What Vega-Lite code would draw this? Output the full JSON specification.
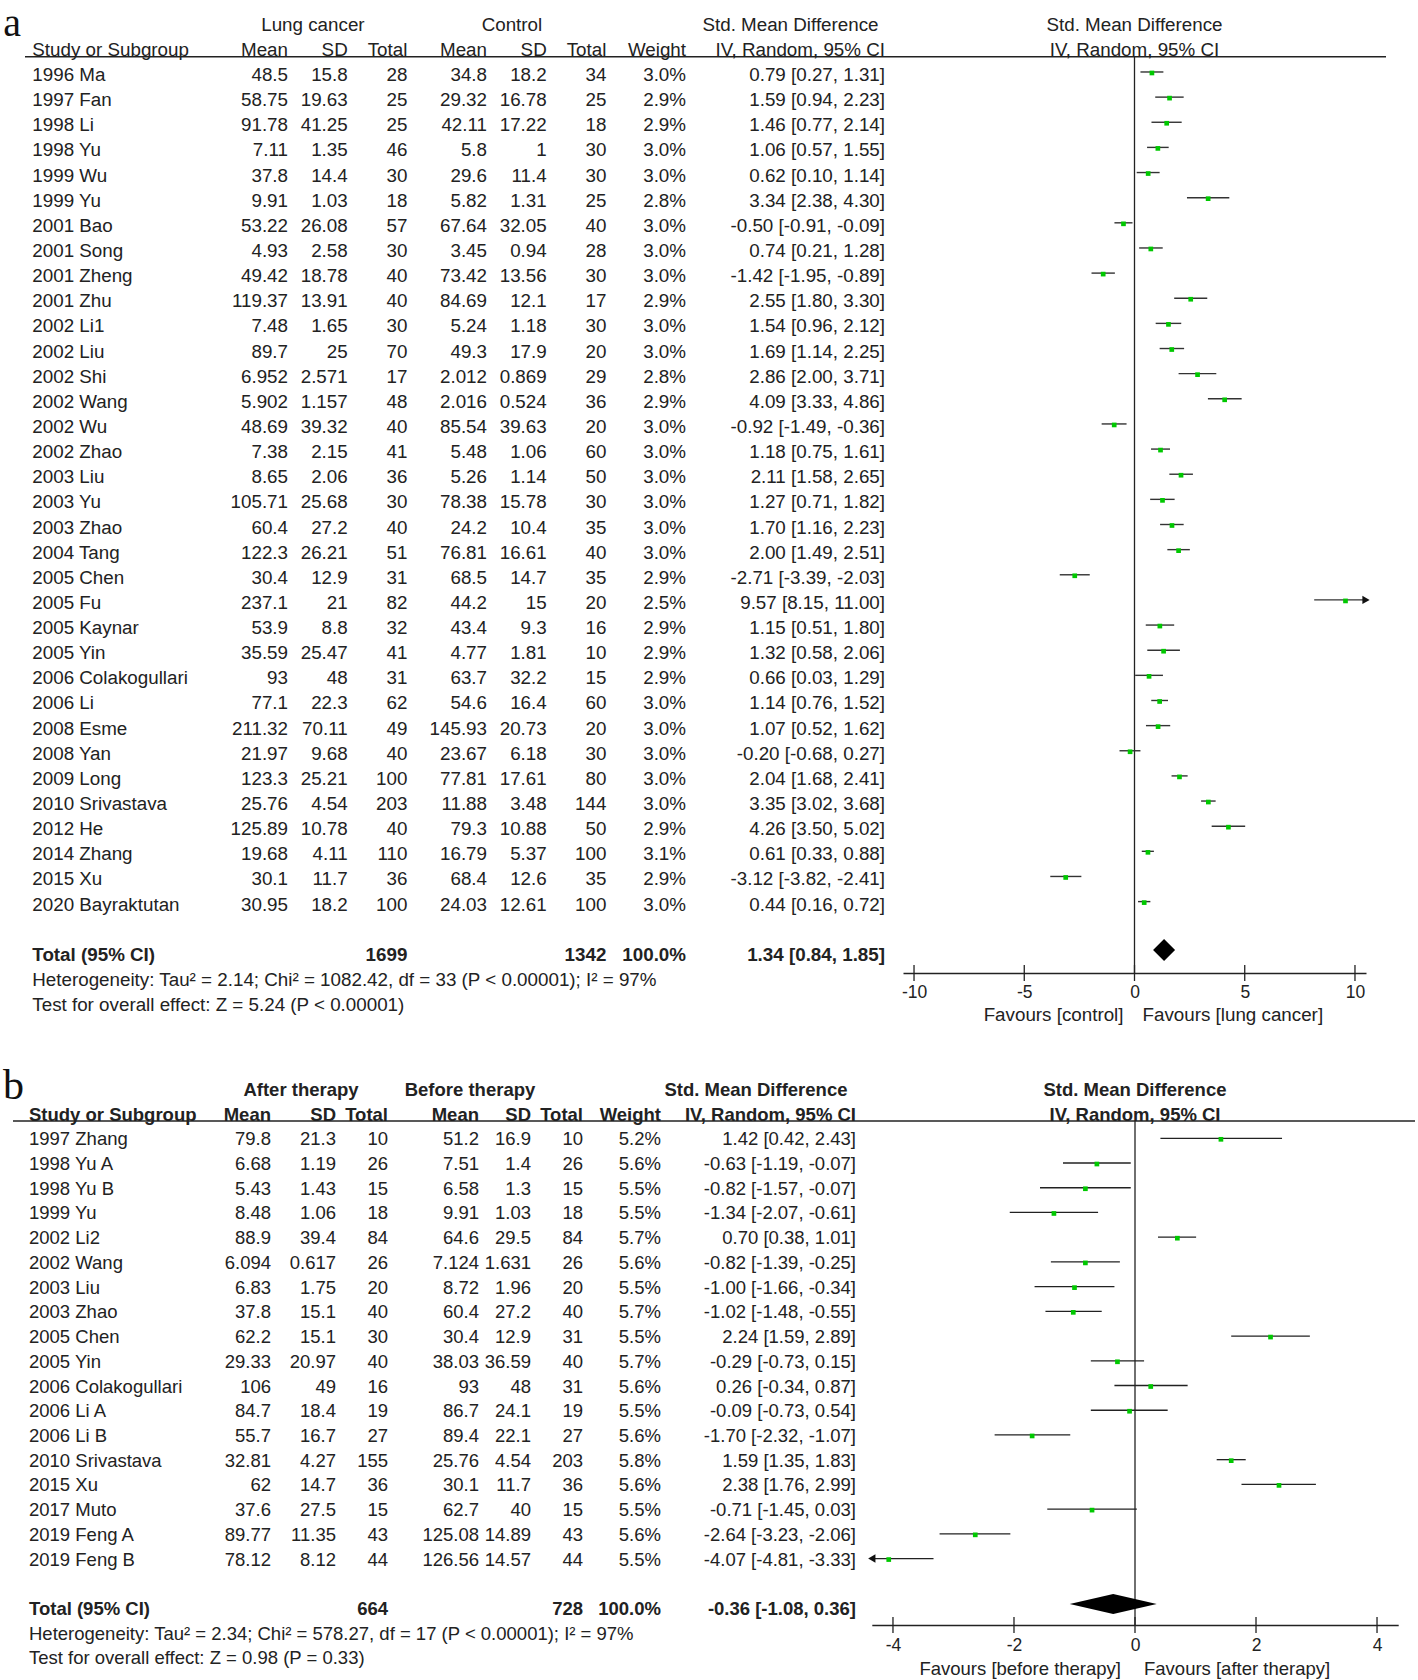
{
"$schema": "https://vega.github.io/schema/vega-lite/v6.json",
"background": "white",
"padding": 0,
"spacing": 0,
"config": {"view": {"stroke": null}},
"datasets": {
"a_rows": [
{"study":"1996 Ma","m1":"48.5","sd1":"15.8","n1":"28","m2":"34.8","sd2":"18.2","n2":"34","w":"3.0%","ci":"0.79 [0.27, 1.31]","smd":0.79,"lo":0.27,"hi":1.31},
{"study":"1997 Fan","m1":"58.75","sd1":"19.63","n1":"25","m2":"29.32","sd2":"16.78","n2":"25","w":"2.9%","ci":"1.59 [0.94, 2.23]","smd":1.59,"lo":0.94,"hi":2.23},
{"study":"1998 Li","m1":"91.78","sd1":"41.25","n1":"25","m2":"42.11","sd2":"17.22","n2":"18","w":"2.9%","ci":"1.46 [0.77, 2.14]","smd":1.46,"lo":0.77,"hi":2.14},
{"study":"1998 Yu","m1":"7.11","sd1":"1.35","n1":"46","m2":"5.8","sd2":"1","n2":"30","w":"3.0%","ci":"1.06 [0.57, 1.55]","smd":1.06,"lo":0.57,"hi":1.55},
{"study":"1999 Wu","m1":"37.8","sd1":"14.4","n1":"30","m2":"29.6","sd2":"11.4","n2":"30","w":"3.0%","ci":"0.62 [0.10, 1.14]","smd":0.62,"lo":0.10,"hi":1.14},
{"study":"1999 Yu","m1":"9.91","sd1":"1.03","n1":"18","m2":"5.82","sd2":"1.31","n2":"25","w":"2.8%","ci":"3.34 [2.38, 4.30]","smd":3.34,"lo":2.38,"hi":4.30},
{"study":"2001 Bao","m1":"53.22","sd1":"26.08","n1":"57","m2":"67.64","sd2":"32.05","n2":"40","w":"3.0%","ci":"-0.50 [-0.91, -0.09]","smd":-0.50,"lo":-0.91,"hi":-0.09},
{"study":"2001 Song","m1":"4.93","sd1":"2.58","n1":"30","m2":"3.45","sd2":"0.94","n2":"28","w":"3.0%","ci":"0.74 [0.21, 1.28]","smd":0.74,"lo":0.21,"hi":1.28},
{"study":"2001 Zheng","m1":"49.42","sd1":"18.78","n1":"40","m2":"73.42","sd2":"13.56","n2":"30","w":"3.0%","ci":"-1.42 [-1.95, -0.89]","smd":-1.42,"lo":-1.95,"hi":-0.89},
{"study":"2001 Zhu","m1":"119.37","sd1":"13.91","n1":"40","m2":"84.69","sd2":"12.1","n2":"17","w":"2.9%","ci":"2.55 [1.80, 3.30]","smd":2.55,"lo":1.80,"hi":3.30},
{"study":"2002 Li1","m1":"7.48","sd1":"1.65","n1":"30","m2":"5.24","sd2":"1.18","n2":"30","w":"3.0%","ci":"1.54 [0.96, 2.12]","smd":1.54,"lo":0.96,"hi":2.12},
{"study":"2002 Liu","m1":"89.7","sd1":"25","n1":"70","m2":"49.3","sd2":"17.9","n2":"20","w":"3.0%","ci":"1.69 [1.14, 2.25]","smd":1.69,"lo":1.14,"hi":2.25},
{"study":"2002 Shi","m1":"6.952","sd1":"2.571","n1":"17","m2":"2.012","sd2":"0.869","n2":"29","w":"2.8%","ci":"2.86 [2.00, 3.71]","smd":2.86,"lo":2.00,"hi":3.71},
{"study":"2002 Wang","m1":"5.902","sd1":"1.157","n1":"48","m2":"2.016","sd2":"0.524","n2":"36","w":"2.9%","ci":"4.09 [3.33, 4.86]","smd":4.09,"lo":3.33,"hi":4.86},
{"study":"2002 Wu","m1":"48.69","sd1":"39.32","n1":"40","m2":"85.54","sd2":"39.63","n2":"20","w":"3.0%","ci":"-0.92 [-1.49, -0.36]","smd":-0.92,"lo":-1.49,"hi":-0.36},
{"study":"2002 Zhao","m1":"7.38","sd1":"2.15","n1":"41","m2":"5.48","sd2":"1.06","n2":"60","w":"3.0%","ci":"1.18 [0.75, 1.61]","smd":1.18,"lo":0.75,"hi":1.61},
{"study":"2003 Liu","m1":"8.65","sd1":"2.06","n1":"36","m2":"5.26","sd2":"1.14","n2":"50","w":"3.0%","ci":"2.11 [1.58, 2.65]","smd":2.11,"lo":1.58,"hi":2.65},
{"study":"2003 Yu","m1":"105.71","sd1":"25.68","n1":"30","m2":"78.38","sd2":"15.78","n2":"30","w":"3.0%","ci":"1.27 [0.71, 1.82]","smd":1.27,"lo":0.71,"hi":1.82},
{"study":"2003 Zhao","m1":"60.4","sd1":"27.2","n1":"40","m2":"24.2","sd2":"10.4","n2":"35","w":"3.0%","ci":"1.70 [1.16, 2.23]","smd":1.70,"lo":1.16,"hi":2.23},
{"study":"2004 Tang","m1":"122.3","sd1":"26.21","n1":"51","m2":"76.81","sd2":"16.61","n2":"40","w":"3.0%","ci":"2.00 [1.49, 2.51]","smd":2.00,"lo":1.49,"hi":2.51},
{"study":"2005 Chen","m1":"30.4","sd1":"12.9","n1":"31","m2":"68.5","sd2":"14.7","n2":"35","w":"2.9%","ci":"-2.71 [-3.39, -2.03]","smd":-2.71,"lo":-3.39,"hi":-2.03},
{"study":"2005 Fu","m1":"237.1","sd1":"21","n1":"82","m2":"44.2","sd2":"15","n2":"20","w":"2.5%","ci":"9.57 [8.15, 11.00]","smd":9.57,"lo":8.15,"hi":11.00},
{"study":"2005 Kaynar","m1":"53.9","sd1":"8.8","n1":"32","m2":"43.4","sd2":"9.3","n2":"16","w":"2.9%","ci":"1.15 [0.51, 1.80]","smd":1.15,"lo":0.51,"hi":1.80},
{"study":"2005 Yin","m1":"35.59","sd1":"25.47","n1":"41","m2":"4.77","sd2":"1.81","n2":"10","w":"2.9%","ci":"1.32 [0.58, 2.06]","smd":1.32,"lo":0.58,"hi":2.06},
{"study":"2006 Colakogullari","m1":"93","sd1":"48","n1":"31","m2":"63.7","sd2":"32.2","n2":"15","w":"2.9%","ci":"0.66 [0.03, 1.29]","smd":0.66,"lo":0.03,"hi":1.29},
{"study":"2006 Li","m1":"77.1","sd1":"22.3","n1":"62","m2":"54.6","sd2":"16.4","n2":"60","w":"3.0%","ci":"1.14 [0.76, 1.52]","smd":1.14,"lo":0.76,"hi":1.52},
{"study":"2008 Esme","m1":"211.32","sd1":"70.11","n1":"49","m2":"145.93","sd2":"20.73","n2":"20","w":"3.0%","ci":"1.07 [0.52, 1.62]","smd":1.07,"lo":0.52,"hi":1.62},
{"study":"2008 Yan","m1":"21.97","sd1":"9.68","n1":"40","m2":"23.67","sd2":"6.18","n2":"30","w":"3.0%","ci":"-0.20 [-0.68, 0.27]","smd":-0.20,"lo":-0.68,"hi":0.27},
{"study":"2009 Long","m1":"123.3","sd1":"25.21","n1":"100","m2":"77.81","sd2":"17.61","n2":"80","w":"3.0%","ci":"2.04 [1.68, 2.41]","smd":2.04,"lo":1.68,"hi":2.41},
{"study":"2010 Srivastava","m1":"25.76","sd1":"4.54","n1":"203","m2":"11.88","sd2":"3.48","n2":"144","w":"3.0%","ci":"3.35 [3.02, 3.68]","smd":3.35,"lo":3.02,"hi":3.68},
{"study":"2012 He","m1":"125.89","sd1":"10.78","n1":"40","m2":"79.3","sd2":"10.88","n2":"50","w":"2.9%","ci":"4.26 [3.50, 5.02]","smd":4.26,"lo":3.50,"hi":5.02},
{"study":"2014 Zhang","m1":"19.68","sd1":"4.11","n1":"110","m2":"16.79","sd2":"5.37","n2":"100","w":"3.1%","ci":"0.61 [0.33, 0.88]","smd":0.61,"lo":0.33,"hi":0.88},
{"study":"2015 Xu","m1":"30.1","sd1":"11.7","n1":"36","m2":"68.4","sd2":"12.6","n2":"35","w":"2.9%","ci":"-3.12 [-3.82, -2.41]","smd":-3.12,"lo":-3.82,"hi":-2.41},
{"study":"2020 Bayraktutan","m1":"30.95","sd1":"18.2","n1":"100","m2":"24.03","sd2":"12.61","n2":"100","w":"3.0%","ci":"0.44 [0.16, 0.72]","smd":0.44,"lo":0.16,"hi":0.72}
],
"a_total": [{"study":"Total (95% CI)","n1":"1699","n2":"1342","w":"100.0%","ci":"1.34 [0.84, 1.85]","smd":1.34,"lo":0.84,"hi":1.85}],
"a_h2": [{"key":"study","label":"Study or Subgroup"},{"key":"m1","label":"Mean"},{"key":"sd1","label":"SD"},{"key":"n1","label":"Total"},{"key":"m2","label":"Mean"},{"key":"sd2","label":"SD"},{"key":"n2","label":"Total"},{"key":"w","label":"Weight"},{"key":"ci","label":"IV, Random, 95% CI"}],
"a_h1": [{"key":"g1","label":"Lung cancer"},{"key":"g2","label":"Control"},{"key":"g3","label":"Std. Mean Difference"}],
"a_foot": [{"row":"Het","label":"Heterogeneity: Tau² = 2.14; Chi² = 1082.42, df = 33 (P < 0.00001); I² = 97%"},{"row":"Test","label":"Test for overall effect: Z = 5.24 (P < 0.00001)"}],
"a_fh": [{"row":"h1","label":"Std. Mean Difference"},{"row":"h2","label":"IV, Random, 95% CI"}],
"a_fav": [{"side":"left","label":"Favours [control]"},{"side":"right","label":"Favours [lung cancer]"}],
"a_ticks": [{"v":-10},{"v":-5},{"v":0},{"v":5},{"v":10}],
"b_rows": [
{"study":"1997 Zhang","m1":"79.8","sd1":"21.3","n1":"10","m2":"51.2","sd2":"16.9","n2":"10","w":"5.2%","ci":"1.42 [0.42, 2.43]","smd":1.42,"lo":0.42,"hi":2.43},
{"study":"1998 Yu A","m1":"6.68","sd1":"1.19","n1":"26","m2":"7.51","sd2":"1.4","n2":"26","w":"5.6%","ci":"-0.63 [-1.19, -0.07]","smd":-0.63,"lo":-1.19,"hi":-0.07},
{"study":"1998 Yu B","m1":"5.43","sd1":"1.43","n1":"15","m2":"6.58","sd2":"1.3","n2":"15","w":"5.5%","ci":"-0.82 [-1.57, -0.07]","smd":-0.82,"lo":-1.57,"hi":-0.07},
{"study":"1999 Yu","m1":"8.48","sd1":"1.06","n1":"18","m2":"9.91","sd2":"1.03","n2":"18","w":"5.5%","ci":"-1.34 [-2.07, -0.61]","smd":-1.34,"lo":-2.07,"hi":-0.61},
{"study":"2002 Li2","m1":"88.9","sd1":"39.4","n1":"84","m2":"64.6","sd2":"29.5","n2":"84","w":"5.7%","ci":"0.70 [0.38, 1.01]","smd":0.70,"lo":0.38,"hi":1.01},
{"study":"2002 Wang","m1":"6.094","sd1":"0.617","n1":"26","m2":"7.124","sd2":"1.631","n2":"26","w":"5.6%","ci":"-0.82 [-1.39, -0.25]","smd":-0.82,"lo":-1.39,"hi":-0.25},
{"study":"2003 Liu","m1":"6.83","sd1":"1.75","n1":"20","m2":"8.72","sd2":"1.96","n2":"20","w":"5.5%","ci":"-1.00 [-1.66, -0.34]","smd":-1.00,"lo":-1.66,"hi":-0.34},
{"study":"2003 Zhao","m1":"37.8","sd1":"15.1","n1":"40","m2":"60.4","sd2":"27.2","n2":"40","w":"5.7%","ci":"-1.02 [-1.48, -0.55]","smd":-1.02,"lo":-1.48,"hi":-0.55},
{"study":"2005 Chen","m1":"62.2","sd1":"15.1","n1":"30","m2":"30.4","sd2":"12.9","n2":"31","w":"5.5%","ci":"2.24 [1.59, 2.89]","smd":2.24,"lo":1.59,"hi":2.89},
{"study":"2005 Yin","m1":"29.33","sd1":"20.97","n1":"40","m2":"38.03","sd2":"36.59","n2":"40","w":"5.7%","ci":"-0.29 [-0.73, 0.15]","smd":-0.29,"lo":-0.73,"hi":0.15},
{"study":"2006 Colakogullari","m1":"106","sd1":"49","n1":"16","m2":"93","sd2":"48","n2":"31","w":"5.6%","ci":"0.26 [-0.34, 0.87]","smd":0.26,"lo":-0.34,"hi":0.87},
{"study":"2006 Li A","m1":"84.7","sd1":"18.4","n1":"19","m2":"86.7","sd2":"24.1","n2":"19","w":"5.5%","ci":"-0.09 [-0.73, 0.54]","smd":-0.09,"lo":-0.73,"hi":0.54},
{"study":"2006 Li B","m1":"55.7","sd1":"16.7","n1":"27","m2":"89.4","sd2":"22.1","n2":"27","w":"5.6%","ci":"-1.70 [-2.32, -1.07]","smd":-1.70,"lo":-2.32,"hi":-1.07},
{"study":"2010 Srivastava","m1":"32.81","sd1":"4.27","n1":"155","m2":"25.76","sd2":"4.54","n2":"203","w":"5.8%","ci":"1.59 [1.35, 1.83]","smd":1.59,"lo":1.35,"hi":1.83},
{"study":"2015 Xu","m1":"62","sd1":"14.7","n1":"36","m2":"30.1","sd2":"11.7","n2":"36","w":"5.6%","ci":"2.38 [1.76, 2.99]","smd":2.38,"lo":1.76,"hi":2.99},
{"study":"2017 Muto","m1":"37.6","sd1":"27.5","n1":"15","m2":"62.7","sd2":"40","n2":"15","w":"5.5%","ci":"-0.71 [-1.45, 0.03]","smd":-0.71,"lo":-1.45,"hi":0.03},
{"study":"2019 Feng A","m1":"89.77","sd1":"11.35","n1":"43","m2":"125.08","sd2":"14.89","n2":"43","w":"5.6%","ci":"-2.64 [-3.23, -2.06]","smd":-2.64,"lo":-3.23,"hi":-2.06},
{"study":"2019 Feng B","m1":"78.12","sd1":"8.12","n1":"44","m2":"126.56","sd2":"14.57","n2":"44","w":"5.5%","ci":"-4.07 [-4.81, -3.33]","smd":-4.07,"lo":-4.81,"hi":-3.33}
],
"b_total": [{"study":"Total (95% CI)","n1":"664","n2":"728","w":"100.0%","ci":"-0.36 [-1.08, 0.36]","smd":-0.36,"lo":-1.08,"hi":0.36}],
"b_h2": [{"key":"study","label":"Study or Subgroup"},{"key":"m1","label":"Mean"},{"key":"sd1","label":"SD"},{"key":"n1","label":"Total"},{"key":"m2","label":"Mean"},{"key":"sd2","label":"SD"},{"key":"n2","label":"Total"},{"key":"w","label":"Weight"},{"key":"ci","label":"IV, Random, 95% CI"}],
"b_h1": [{"key":"g1","label":"After therapy"},{"key":"g2","label":"Before therapy"},{"key":"g3","label":"Std. Mean Difference"}],
"b_foot": [{"row":"Het","label":"Heterogeneity: Tau² = 2.34; Chi² = 578.27, df = 17 (P < 0.00001); I² = 97%"},{"row":"Test","label":"Test for overall effect: Z = 0.98 (P = 0.33)"}],
"b_fh": [{"row":"h1","label":"Std. Mean Difference"},{"row":"h2","label":"IV, Random, 95% CI"}],
"b_fav": [{"side":"left","label":"Favours [before therapy]"},{"side":"right","label":"Favours [after therapy]"}],
"b_ticks": [{"v":-4},{"v":-2},{"v":0},{"v":2},{"v":4}]
},
"vconcat": [
{
"width": 1418, "height": 1030,
"resolve": {"scale": {"x": "independent"}},
"layer": [
{"layer": [
{"data": {"values": [{"panel": "a"}]},
 "mark": {"type": "text", "font": "Liberation Serif", "fontSize": 40, "align": "left", "baseline": "alphabetic", "dx": -26, "dy": 11.3, "color": "#111"},
 "encoding": {"x": {"datum": "study", "type": "nominal", "axis": null, "scale": {"domain":["study","x1","x2","x3","x4","x5","x6","x7","x8","x9","x10","x11","x12","m1","g1","x15","sd1","x17","x18","n1","x20","x21","x22","m2","g2","x25","sd2","x27","x28","n2","x30","x31","x32","w","x34","x35","x36","x37","g3","x39","x40","x41","x42","ci","x44","x45","x46","x47","x48","x49","x50","x51","x52","x53","x54","x55","x56","x57","x58","x59","x60","x61","x62","x63","x64","x65","x66","x67","end"],"range":[19.35,1392.45],"padding":0}},
  "y": {"datum": "h1", "type": "nominal", "axis": null, "scale": {"domain":["h1","h2","1996 Ma","1997 Fan","1998 Li","1998 Yu","1999 Wu","1999 Yu","2001 Bao","2001 Song","2001 Zheng","2001 Zhu","2002 Li1","2002 Liu","2002 Shi","2002 Wang","2002 Wu","2002 Zhao","2003 Liu","2003 Yu","2003 Zhao","2004 Tang","2005 Chen","2005 Fu","2005 Kaynar","2005 Yin","2006 Colakogullari","2006 Li","2008 Esme","2008 Yan","2009 Long","2010 Srivastava","2012 He","2014 Zhang","2015 Xu","2020 Bayraktutan","gap","Total (95% CI)","Het","Test"],"range":[12.13,1017.73],"padding":0}},
  "text": {"field": "panel"}}},
{"data": {"name": "a_rows"},
 "mark": {"type": "text", "font": "Liberation Sans", "fontSize": 18.8, "align": "left", "baseline": "middle", "dx": 3, "color": "#222"},
 "encoding": {"x": {"datum": "study", "type": "nominal", "axis": null, "scale": {"domain":["study","x1","x2","x3","x4","x5","x6","x7","x8","x9","x10","x11","x12","m1","g1","x15","sd1","x17","x18","n1","x20","x21","x22","m2","g2","x25","sd2","x27","x28","n2","x30","x31","x32","w","x34","x35","x36","x37","g3","x39","x40","x41","x42","ci","x44","x45","x46","x47","x48","x49","x50","x51","x52","x53","x54","x55","x56","x57","x58","x59","x60","x61","x62","x63","x64","x65","x66","x67","end"],"range":[19.35,1392.45],"padding":0}},
  "y": {"field": "study", "type": "nominal", "axis": null, "scale": {"domain":["h1","h2","1996 Ma","1997 Fan","1998 Li","1998 Yu","1999 Wu","1999 Yu","2001 Bao","2001 Song","2001 Zheng","2001 Zhu","2002 Li1","2002 Liu","2002 Shi","2002 Wang","2002 Wu","2002 Zhao","2003 Liu","2003 Yu","2003 Zhao","2004 Tang","2005 Chen","2005 Fu","2005 Kaynar","2005 Yin","2006 Colakogullari","2006 Li","2008 Esme","2008 Yan","2009 Long","2010 Srivastava","2012 He","2014 Zhang","2015 Xu","2020 Bayraktutan","gap","Total (95% CI)","Het","Test"],"range":[12.13,1017.73],"padding":0}},
  "text": {"field": "study"}}},
{"data": {"name": "a_rows"},
 "transform": [{"fold": ["m1","sd1","n1","m2","sd2","n2","w","ci"], "as": ["key","value"]}],
 "mark": {"type": "text", "font": "Liberation Sans", "fontSize": 18.8, "align": "right", "baseline": "middle", "color": "#222"},
 "encoding": {"x": {"field": "key", "type": "nominal", "axis": null, "scale": {"domain":["study","x1","x2","x3","x4","x5","x6","x7","x8","x9","x10","x11","x12","m1","g1","x15","sd1","x17","x18","n1","x20","x21","x22","m2","g2","x25","sd2","x27","x28","n2","x30","x31","x32","w","x34","x35","x36","x37","g3","x39","x40","x41","x42","ci","x44","x45","x46","x47","x48","x49","x50","x51","x52","x53","x54","x55","x56","x57","x58","x59","x60","x61","x62","x63","x64","x65","x66","x67","end"],"range":[19.35,1392.45],"padding":0}},
  "y": {"field": "study", "type": "nominal", "axis": null, "scale": {"domain":["h1","h2","1996 Ma","1997 Fan","1998 Li","1998 Yu","1999 Wu","1999 Yu","2001 Bao","2001 Song","2001 Zheng","2001 Zhu","2002 Li1","2002 Liu","2002 Shi","2002 Wang","2002 Wu","2002 Zhao","2003 Liu","2003 Yu","2003 Zhao","2004 Tang","2005 Chen","2005 Fu","2005 Kaynar","2005 Yin","2006 Colakogullari","2006 Li","2008 Esme","2008 Yan","2009 Long","2010 Srivastava","2012 He","2014 Zhang","2015 Xu","2020 Bayraktutan","gap","Total (95% CI)","Het","Test"],"range":[12.13,1017.73],"padding":0}},
  "text": {"field": "value", "type": "nominal"}}},
{"data": {"name": "a_h2"},
 "transform": [{"filter": "datum.key != 'study'"}],
 "mark": {"type": "text", "font": "Liberation Sans", "fontSize": 18.8, "align": "right", "baseline": "middle", "color": "#222"},
 "encoding": {"x": {"field": "key", "type": "nominal", "axis": null, "scale": {"domain":["study","x1","x2","x3","x4","x5","x6","x7","x8","x9","x10","x11","x12","m1","g1","x15","sd1","x17","x18","n1","x20","x21","x22","m2","g2","x25","sd2","x27","x28","n2","x30","x31","x32","w","x34","x35","x36","x37","g3","x39","x40","x41","x42","ci","x44","x45","x46","x47","x48","x49","x50","x51","x52","x53","x54","x55","x56","x57","x58","x59","x60","x61","x62","x63","x64","x65","x66","x67","end"],"range":[19.35,1392.45],"padding":0}},
  "y": {"datum": "h2", "type": "nominal", "axis": null, "scale": {"domain":["h1","h2","1996 Ma","1997 Fan","1998 Li","1998 Yu","1999 Wu","1999 Yu","2001 Bao","2001 Song","2001 Zheng","2001 Zhu","2002 Li1","2002 Liu","2002 Shi","2002 Wang","2002 Wu","2002 Zhao","2003 Liu","2003 Yu","2003 Zhao","2004 Tang","2005 Chen","2005 Fu","2005 Kaynar","2005 Yin","2006 Colakogullari","2006 Li","2008 Esme","2008 Yan","2009 Long","2010 Srivastava","2012 He","2014 Zhang","2015 Xu","2020 Bayraktutan","gap","Total (95% CI)","Het","Test"],"range":[12.13,1017.73],"padding":0}},
  "text": {"field": "label"}}},
{"data": {"name": "a_h2"},
 "transform": [{"filter": "datum.key == 'study'"}],
 "mark": {"type": "text", "font": "Liberation Sans", "fontSize": 18.8, "align": "left", "baseline": "middle", "dx": 3, "color": "#222"},
 "encoding": {"x": {"field": "key", "type": "nominal", "axis": null, "scale": {"domain":["study","x1","x2","x3","x4","x5","x6","x7","x8","x9","x10","x11","x12","m1","g1","x15","sd1","x17","x18","n1","x20","x21","x22","m2","g2","x25","sd2","x27","x28","n2","x30","x31","x32","w","x34","x35","x36","x37","g3","x39","x40","x41","x42","ci","x44","x45","x46","x47","x48","x49","x50","x51","x52","x53","x54","x55","x56","x57","x58","x59","x60","x61","x62","x63","x64","x65","x66","x67","end"],"range":[19.35,1392.45],"padding":0}},
  "y": {"datum": "h2", "type": "nominal", "axis": null, "scale": {"domain":["h1","h2","1996 Ma","1997 Fan","1998 Li","1998 Yu","1999 Wu","1999 Yu","2001 Bao","2001 Song","2001 Zheng","2001 Zhu","2002 Li1","2002 Liu","2002 Shi","2002 Wang","2002 Wu","2002 Zhao","2003 Liu","2003 Yu","2003 Zhao","2004 Tang","2005 Chen","2005 Fu","2005 Kaynar","2005 Yin","2006 Colakogullari","2006 Li","2008 Esme","2008 Yan","2009 Long","2010 Srivastava","2012 He","2014 Zhang","2015 Xu","2020 Bayraktutan","gap","Total (95% CI)","Het","Test"],"range":[12.13,1017.73],"padding":0}},
  "text": {"field": "label"}}},
{"data": {"name": "a_h1"},
 "mark": {"type": "text", "font": "Liberation Sans", "fontSize": 18.8, "align": "center", "baseline": "middle", "dx": 5, "color": "#222"},
 "encoding": {"x": {"field": "key", "type": "nominal", "axis": null, "scale": {"domain":["study","x1","x2","x3","x4","x5","x6","x7","x8","x9","x10","x11","x12","m1","g1","x15","sd1","x17","x18","n1","x20","x21","x22","m2","g2","x25","sd2","x27","x28","n2","x30","x31","x32","w","x34","x35","x36","x37","g3","x39","x40","x41","x42","ci","x44","x45","x46","x47","x48","x49","x50","x51","x52","x53","x54","x55","x56","x57","x58","x59","x60","x61","x62","x63","x64","x65","x66","x67","end"],"range":[19.35,1392.45],"padding":0}},
  "y": {"datum": "h1", "type": "nominal", "axis": null, "scale": {"domain":["h1","h2","1996 Ma","1997 Fan","1998 Li","1998 Yu","1999 Wu","1999 Yu","2001 Bao","2001 Song","2001 Zheng","2001 Zhu","2002 Li1","2002 Liu","2002 Shi","2002 Wang","2002 Wu","2002 Zhao","2003 Liu","2003 Yu","2003 Zhao","2004 Tang","2005 Chen","2005 Fu","2005 Kaynar","2005 Yin","2006 Colakogullari","2006 Li","2008 Esme","2008 Yan","2009 Long","2010 Srivastava","2012 He","2014 Zhang","2015 Xu","2020 Bayraktutan","gap","Total (95% CI)","Het","Test"],"range":[12.13,1017.73],"padding":0}},
  "text": {"field": "label"}}},
{"data": {"name": "a_total"},
 "mark": {"type": "text", "font": "Liberation Sans", "fontSize": 18.8, "fontWeight": "bold", "align": "left", "baseline": "middle", "dx": 3, "color": "#222"},
 "encoding": {"x": {"datum": "study", "type": "nominal", "axis": null, "scale": {"domain":["study","x1","x2","x3","x4","x5","x6","x7","x8","x9","x10","x11","x12","m1","g1","x15","sd1","x17","x18","n1","x20","x21","x22","m2","g2","x25","sd2","x27","x28","n2","x30","x31","x32","w","x34","x35","x36","x37","g3","x39","x40","x41","x42","ci","x44","x45","x46","x47","x48","x49","x50","x51","x52","x53","x54","x55","x56","x57","x58","x59","x60","x61","x62","x63","x64","x65","x66","x67","end"],"range":[19.35,1392.45],"padding":0}},
  "y": {"field": "study", "type": "nominal", "axis": null, "scale": {"domain":["h1","h2","1996 Ma","1997 Fan","1998 Li","1998 Yu","1999 Wu","1999 Yu","2001 Bao","2001 Song","2001 Zheng","2001 Zhu","2002 Li1","2002 Liu","2002 Shi","2002 Wang","2002 Wu","2002 Zhao","2003 Liu","2003 Yu","2003 Zhao","2004 Tang","2005 Chen","2005 Fu","2005 Kaynar","2005 Yin","2006 Colakogullari","2006 Li","2008 Esme","2008 Yan","2009 Long","2010 Srivastava","2012 He","2014 Zhang","2015 Xu","2020 Bayraktutan","gap","Total (95% CI)","Het","Test"],"range":[12.13,1017.73],"padding":0}},
  "text": {"field": "study"}}},
{"data": {"name": "a_total"},
 "transform": [{"fold": ["n1","n2","w","ci"], "as": ["key","value"]}],
 "mark": {"type": "text", "font": "Liberation Sans", "fontSize": 18.8, "fontWeight": "bold", "align": "right", "baseline": "middle", "color": "#222"},
 "encoding": {"x": {"field": "key", "type": "nominal", "axis": null, "scale": {"domain":["study","x1","x2","x3","x4","x5","x6","x7","x8","x9","x10","x11","x12","m1","g1","x15","sd1","x17","x18","n1","x20","x21","x22","m2","g2","x25","sd2","x27","x28","n2","x30","x31","x32","w","x34","x35","x36","x37","g3","x39","x40","x41","x42","ci","x44","x45","x46","x47","x48","x49","x50","x51","x52","x53","x54","x55","x56","x57","x58","x59","x60","x61","x62","x63","x64","x65","x66","x67","end"],"range":[19.35,1392.45],"padding":0}},
  "y": {"field": "study", "type": "nominal", "axis": null, "scale": {"domain":["h1","h2","1996 Ma","1997 Fan","1998 Li","1998 Yu","1999 Wu","1999 Yu","2001 Bao","2001 Song","2001 Zheng","2001 Zhu","2002 Li1","2002 Liu","2002 Shi","2002 Wang","2002 Wu","2002 Zhao","2003 Liu","2003 Yu","2003 Zhao","2004 Tang","2005 Chen","2005 Fu","2005 Kaynar","2005 Yin","2006 Colakogullari","2006 Li","2008 Esme","2008 Yan","2009 Long","2010 Srivastava","2012 He","2014 Zhang","2015 Xu","2020 Bayraktutan","gap","Total (95% CI)","Het","Test"],"range":[12.13,1017.73],"padding":0}},
  "text": {"field": "value", "type": "nominal"}}},
{"data": {"name": "a_foot"},
 "mark": {"type": "text", "font": "Liberation Sans", "fontSize": 18.8, "align": "left", "baseline": "middle", "dx": 3, "color": "#222"},
 "encoding": {"x": {"datum": "study", "type": "nominal", "axis": null, "scale": {"domain":["study","x1","x2","x3","x4","x5","x6","x7","x8","x9","x10","x11","x12","m1","g1","x15","sd1","x17","x18","n1","x20","x21","x22","m2","g2","x25","sd2","x27","x28","n2","x30","x31","x32","w","x34","x35","x36","x37","g3","x39","x40","x41","x42","ci","x44","x45","x46","x47","x48","x49","x50","x51","x52","x53","x54","x55","x56","x57","x58","x59","x60","x61","x62","x63","x64","x65","x66","x67","end"],"range":[19.35,1392.45],"padding":0}},
  "y": {"field": "row", "type": "nominal", "axis": null, "scale": {"domain":["h1","h2","1996 Ma","1997 Fan","1998 Li","1998 Yu","1999 Wu","1999 Yu","2001 Bao","2001 Song","2001 Zheng","2001 Zhu","2002 Li1","2002 Liu","2002 Shi","2002 Wang","2002 Wu","2002 Zhao","2003 Liu","2003 Yu","2003 Zhao","2004 Tang","2005 Chen","2005 Fu","2005 Kaynar","2005 Yin","2006 Colakogullari","2006 Li","2008 Esme","2008 Yan","2009 Long","2010 Srivastava","2012 He","2014 Zhang","2015 Xu","2020 Bayraktutan","gap","Total (95% CI)","Het","Test"],"range":[12.13,1017.73],"padding":0}},
  "text": {"field": "label"}}},
{"data": {"values": [{}]},
 "mark": {"type": "rule", "color": "#222", "strokeWidth": 1.5, "xOffset": -4.3, "x2Offset": 3.5, "yOffset": 7},
 "encoding": {"x": {"datum": "study", "type": "nominal", "axis": null, "scale": {"domain":["study","x1","x2","x3","x4","x5","x6","x7","x8","x9","x10","x11","x12","m1","g1","x15","sd1","x17","x18","n1","x20","x21","x22","m2","g2","x25","sd2","x27","x28","n2","x30","x31","x32","w","x34","x35","x36","x37","g3","x39","x40","x41","x42","ci","x44","x45","x46","x47","x48","x49","x50","x51","x52","x53","x54","x55","x56","x57","x58","x59","x60","x61","x62","x63","x64","x65","x66","x67","end"],"range":[19.35,1392.45],"padding":0}},
  "x2": {"datum": "end"},
  "y": {"datum": "h2", "type": "nominal", "axis": null, "scale": {"domain":["h1","h2","1996 Ma","1997 Fan","1998 Li","1998 Yu","1999 Wu","1999 Yu","2001 Bao","2001 Song","2001 Zheng","2001 Zhu","2002 Li1","2002 Liu","2002 Shi","2002 Wang","2002 Wu","2002 Zhao","2003 Liu","2003 Yu","2003 Zhao","2004 Tang","2005 Chen","2005 Fu","2005 Kaynar","2005 Yin","2006 Colakogullari","2006 Li","2008 Esme","2008 Yan","2009 Long","2010 Srivastava","2012 He","2014 Zhang","2015 Xu","2020 Bayraktutan","gap","Total (95% CI)","Het","Test"],"range":[12.13,1017.73],"padding":0}}}}
]},
{"layer": [
{"data": {"values": [{}]},
 "mark": {"type": "rule", "color": "#222", "strokeWidth": 1.3, "yOffset": 7, "y2Offset": -7},
 "encoding": {"x": {"datum": 0, "type": "quantitative", "scale": {"domain":[-10.5,10.5],"range":[903,1366],"clamp":true,"nice":false,"zero":false},
   "axis": {"orient": "bottom", "offset": -57, "values": [-10,-5,0,5,10], "ticks": false, "domainColor": "#222", "domainWidth": 1.3, "labelFont": "Liberation Sans", "labelFontSize": 17.5, "labelColor": "#222", "labelPadding": 10, "labelExpr": "'' + datum.value", "labelFlush": false, "labelOverlap": false, "grid": false, "title": null}},
  "y": {"datum": "h2", "type": "nominal", "axis": null, "scale": {"domain":["h1","h2","1996 Ma","1997 Fan","1998 Li","1998 Yu","1999 Wu","1999 Yu","2001 Bao","2001 Song","2001 Zheng","2001 Zhu","2002 Li1","2002 Liu","2002 Shi","2002 Wang","2002 Wu","2002 Zhao","2003 Liu","2003 Yu","2003 Zhao","2004 Tang","2005 Chen","2005 Fu","2005 Kaynar","2005 Yin","2006 Colakogullari","2006 Li","2008 Esme","2008 Yan","2009 Long","2010 Srivastava","2012 He","2014 Zhang","2015 Xu","2020 Bayraktutan","gap","Total (95% CI)","Het","Test"],"range":[12.13,1017.73],"padding":0}},
  "y2": {"datum": "Het"}}},
{"data": {"name": "a_ticks"},
 "mark": {"type": "tick", "orient": "vertical", "size": 16, "thickness": 1.3, "color": "#222", "opacity": 1, "yOffset": -7},
 "encoding": {"x": {"field": "v", "type": "quantitative", "scale": {"domain":[-10.5,10.5],"range":[903,1366],"clamp":true,"nice":false,"zero":false},
   "axis": {"orient": "bottom", "offset": -57, "values": [-10,-5,0,5,10], "ticks": false, "domainColor": "#222", "domainWidth": 1.3, "labelFont": "Liberation Sans", "labelFontSize": 17.5, "labelColor": "#222", "labelPadding": 10, "labelExpr": "'' + datum.value", "labelFlush": false, "labelOverlap": false, "grid": false, "title": null}},
  "y": {"datum": "Het", "type": "nominal", "axis": null, "scale": {"domain":["h1","h2","1996 Ma","1997 Fan","1998 Li","1998 Yu","1999 Wu","1999 Yu","2001 Bao","2001 Song","2001 Zheng","2001 Zhu","2002 Li1","2002 Liu","2002 Shi","2002 Wang","2002 Wu","2002 Zhao","2003 Liu","2003 Yu","2003 Zhao","2004 Tang","2005 Chen","2005 Fu","2005 Kaynar","2005 Yin","2006 Colakogullari","2006 Li","2008 Esme","2008 Yan","2009 Long","2010 Srivastava","2012 He","2014 Zhang","2015 Xu","2020 Bayraktutan","gap","Total (95% CI)","Het","Test"],"range":[12.13,1017.73],"padding":0}}}},
{"data": {"name": "a_rows"},
 "mark": {"type": "rule", "color": "#333", "strokeWidth": 1.4, "yOffset": -3},
 "encoding": {"x": {"field": "lo", "type": "quantitative", "scale": {"domain":[-10.5,10.5],"range":[903,1366],"clamp":true,"nice":false,"zero":false},
   "axis": {"orient": "bottom", "offset": -57, "values": [-10,-5,0,5,10], "ticks": false, "domainColor": "#222", "domainWidth": 1.3, "labelFont": "Liberation Sans", "labelFontSize": 17.5, "labelColor": "#222", "labelPadding": 10, "labelExpr": "'' + datum.value", "labelFlush": false, "labelOverlap": false, "grid": false, "title": null}},
  "x2": {"field": "hi"},
  "y": {"field": "study", "type": "nominal", "axis": null, "scale": {"domain":["h1","h2","1996 Ma","1997 Fan","1998 Li","1998 Yu","1999 Wu","1999 Yu","2001 Bao","2001 Song","2001 Zheng","2001 Zhu","2002 Li1","2002 Liu","2002 Shi","2002 Wang","2002 Wu","2002 Zhao","2003 Liu","2003 Yu","2003 Zhao","2004 Tang","2005 Chen","2005 Fu","2005 Kaynar","2005 Yin","2006 Colakogullari","2006 Li","2008 Esme","2008 Yan","2009 Long","2010 Srivastava","2012 He","2014 Zhang","2015 Xu","2020 Bayraktutan","gap","Total (95% CI)","Het","Test"],"range":[12.13,1017.73],"padding":0}}}},
{"data": {"name": "a_rows"},
 "mark": {"type": "point", "shape": "square", "filled": true, "size": 22, "color": "#00c800", "opacity": 1, "yOffset": -2},
 "encoding": {"x": {"field": "smd", "type": "quantitative", "scale": {"domain":[-10.5,10.5],"range":[903,1366],"clamp":true,"nice":false,"zero":false},
   "axis": {"orient": "bottom", "offset": -57, "values": [-10,-5,0,5,10], "ticks": false, "domainColor": "#222", "domainWidth": 1.3, "labelFont": "Liberation Sans", "labelFontSize": 17.5, "labelColor": "#222", "labelPadding": 10, "labelExpr": "'' + datum.value", "labelFlush": false, "labelOverlap": false, "grid": false, "title": null}},
  "y": {"field": "study", "type": "nominal", "axis": null, "scale": {"domain":["h1","h2","1996 Ma","1997 Fan","1998 Li","1998 Yu","1999 Wu","1999 Yu","2001 Bao","2001 Song","2001 Zheng","2001 Zhu","2002 Li1","2002 Liu","2002 Shi","2002 Wang","2002 Wu","2002 Zhao","2003 Liu","2003 Yu","2003 Zhao","2004 Tang","2005 Chen","2005 Fu","2005 Kaynar","2005 Yin","2006 Colakogullari","2006 Li","2008 Esme","2008 Yan","2009 Long","2010 Srivastava","2012 He","2014 Zhang","2015 Xu","2020 Bayraktutan","gap","Total (95% CI)","Het","Test"],"range":[12.13,1017.73],"padding":0}}}},
{"data": {"name": "a_rows"},
 "transform": [{"filter": "datum.hi > 10.5"}],
 "mark": {"type": "point", "shape": "triangle-right", "filled": true, "size": 70, "color": "#111", "opacity": 1, "yOffset": -3},
 "encoding": {"x": {"field": "hi", "type": "quantitative", "scale": {"domain":[-10.5,10.5],"range":[903,1366],"clamp":true,"nice":false,"zero":false},
   "axis": {"orient": "bottom", "offset": -57, "values": [-10,-5,0,5,10], "ticks": false, "domainColor": "#222", "domainWidth": 1.3, "labelFont": "Liberation Sans", "labelFontSize": 17.5, "labelColor": "#222", "labelPadding": 10, "labelExpr": "'' + datum.value", "labelFlush": false, "labelOverlap": false, "grid": false, "title": null}},
  "y": {"field": "study", "type": "nominal", "axis": null, "scale": {"domain":["h1","h2","1996 Ma","1997 Fan","1998 Li","1998 Yu","1999 Wu","1999 Yu","2001 Bao","2001 Song","2001 Zheng","2001 Zhu","2002 Li1","2002 Liu","2002 Shi","2002 Wang","2002 Wu","2002 Zhao","2003 Liu","2003 Yu","2003 Zhao","2004 Tang","2005 Chen","2005 Fu","2005 Kaynar","2005 Yin","2006 Colakogullari","2006 Li","2008 Esme","2008 Yan","2009 Long","2010 Srivastava","2012 He","2014 Zhang","2015 Xu","2020 Bayraktutan","gap","Total (95% CI)","Het","Test"],"range":[12.13,1017.73],"padding":0}}}},
{"data": {"name": "a_total"},
 "mark": {"type": "point", "shape": "diamond", "filled": true, "size": 484, "color": "#000", "opacity": 1, "yOffset": -5},
 "encoding": {"x": {"field": "smd", "type": "quantitative", "scale": {"domain":[-10.5,10.5],"range":[903,1366],"clamp":true,"nice":false,"zero":false},
   "axis": {"orient": "bottom", "offset": -57, "values": [-10,-5,0,5,10], "ticks": false, "domainColor": "#222", "domainWidth": 1.3, "labelFont": "Liberation Sans", "labelFontSize": 17.5, "labelColor": "#222", "labelPadding": 10, "labelExpr": "'' + datum.value", "labelFlush": false, "labelOverlap": false, "grid": false, "title": null}},
  "y": {"field": "study", "type": "nominal", "axis": null, "scale": {"domain":["h1","h2","1996 Ma","1997 Fan","1998 Li","1998 Yu","1999 Wu","1999 Yu","2001 Bao","2001 Song","2001 Zheng","2001 Zhu","2002 Li1","2002 Liu","2002 Shi","2002 Wang","2002 Wu","2002 Zhao","2003 Liu","2003 Yu","2003 Zhao","2004 Tang","2005 Chen","2005 Fu","2005 Kaynar","2005 Yin","2006 Colakogullari","2006 Li","2008 Esme","2008 Yan","2009 Long","2010 Srivastava","2012 He","2014 Zhang","2015 Xu","2020 Bayraktutan","gap","Total (95% CI)","Het","Test"],"range":[12.13,1017.73],"padding":0}}}},
{"data": {"name": "a_fh"},
 "mark": {"type": "text", "font": "Liberation Sans", "fontSize": 18.8, "align": "center", "baseline": "middle", "color": "#222"},
 "encoding": {"x": {"datum": 0, "type": "quantitative", "scale": {"domain":[-10.5,10.5],"range":[903,1366],"clamp":true,"nice":false,"zero":false},
   "axis": {"orient": "bottom", "offset": -57, "values": [-10,-5,0,5,10], "ticks": false, "domainColor": "#222", "domainWidth": 1.3, "labelFont": "Liberation Sans", "labelFontSize": 17.5, "labelColor": "#222", "labelPadding": 10, "labelExpr": "'' + datum.value", "labelFlush": false, "labelOverlap": false, "grid": false, "title": null}},
  "y": {"field": "row", "type": "nominal", "axis": null, "scale": {"domain":["h1","h2","1996 Ma","1997 Fan","1998 Li","1998 Yu","1999 Wu","1999 Yu","2001 Bao","2001 Song","2001 Zheng","2001 Zhu","2002 Li1","2002 Liu","2002 Shi","2002 Wang","2002 Wu","2002 Zhao","2003 Liu","2003 Yu","2003 Zhao","2004 Tang","2005 Chen","2005 Fu","2005 Kaynar","2005 Yin","2006 Colakogullari","2006 Li","2008 Esme","2008 Yan","2009 Long","2010 Srivastava","2012 He","2014 Zhang","2015 Xu","2020 Bayraktutan","gap","Total (95% CI)","Het","Test"],"range":[12.13,1017.73],"padding":0}},
  "text": {"field": "label"}}},
{"data": {"name": "a_fav"},
 "transform": [{"filter": "datum.side == 'left'"}],
 "mark": {"type": "text", "font": "Liberation Sans", "fontSize": 18.8, "align": "right", "baseline": "middle", "dx": -11, "dy": 10, "color": "#222"},
 "encoding": {"x": {"datum": 0, "type": "quantitative", "scale": {"domain":[-10.5,10.5],"range":[903,1366],"clamp":true,"nice":false,"zero":false},
   "axis": {"orient": "bottom", "offset": -57, "values": [-10,-5,0,5,10], "ticks": false, "domainColor": "#222", "domainWidth": 1.3, "labelFont": "Liberation Sans", "labelFontSize": 17.5, "labelColor": "#222", "labelPadding": 10, "labelExpr": "'' + datum.value", "labelFlush": false, "labelOverlap": false, "grid": false, "title": null}},
  "y": {"datum": "Test", "type": "nominal", "axis": null, "scale": {"domain":["h1","h2","1996 Ma","1997 Fan","1998 Li","1998 Yu","1999 Wu","1999 Yu","2001 Bao","2001 Song","2001 Zheng","2001 Zhu","2002 Li1","2002 Liu","2002 Shi","2002 Wang","2002 Wu","2002 Zhao","2003 Liu","2003 Yu","2003 Zhao","2004 Tang","2005 Chen","2005 Fu","2005 Kaynar","2005 Yin","2006 Colakogullari","2006 Li","2008 Esme","2008 Yan","2009 Long","2010 Srivastava","2012 He","2014 Zhang","2015 Xu","2020 Bayraktutan","gap","Total (95% CI)","Het","Test"],"range":[12.13,1017.73],"padding":0}},
  "text": {"field": "label"}}},
{"data": {"name": "a_fav"},
 "transform": [{"filter": "datum.side == 'right'"}],
 "mark": {"type": "text", "font": "Liberation Sans", "fontSize": 18.8, "align": "left", "baseline": "middle", "dx": 8, "dy": 10, "color": "#222"},
 "encoding": {"x": {"datum": 0, "type": "quantitative", "scale": {"domain":[-10.5,10.5],"range":[903,1366],"clamp":true,"nice":false,"zero":false},
   "axis": {"orient": "bottom", "offset": -57, "values": [-10,-5,0,5,10], "ticks": false, "domainColor": "#222", "domainWidth": 1.3, "labelFont": "Liberation Sans", "labelFontSize": 17.5, "labelColor": "#222", "labelPadding": 10, "labelExpr": "'' + datum.value", "labelFlush": false, "labelOverlap": false, "grid": false, "title": null}},
  "y": {"datum": "Test", "type": "nominal", "axis": null, "scale": {"domain":["h1","h2","1996 Ma","1997 Fan","1998 Li","1998 Yu","1999 Wu","1999 Yu","2001 Bao","2001 Song","2001 Zheng","2001 Zhu","2002 Li1","2002 Liu","2002 Shi","2002 Wang","2002 Wu","2002 Zhao","2003 Liu","2003 Yu","2003 Zhao","2004 Tang","2005 Chen","2005 Fu","2005 Kaynar","2005 Yin","2006 Colakogullari","2006 Li","2008 Esme","2008 Yan","2009 Long","2010 Srivastava","2012 He","2014 Zhang","2015 Xu","2020 Bayraktutan","gap","Total (95% CI)","Het","Test"],"range":[12.13,1017.73],"padding":0}},
  "text": {"field": "label"}}}
]}
]
},
{
"width": 1418, "height": 650,
"resolve": {"scale": {"x": "independent"}},
"layer": [
{"layer": [
{"data": {"values": [{"panel": "b"}]},
 "mark": {"type": "text", "font": "Liberation Serif", "fontSize": 42, "align": "left", "baseline": "alphabetic", "dx": -21, "dy": 9, "color": "#111"},
 "encoding": {"x": {"datum": "study", "type": "nominal", "axis": null, "scale": {"domain":["study","x1","x2","x3","x4","x5","x6","x7","x8","x9","x10","x11","x12","x13","x14","x15","x16","x17","x18","m1","x20","g1","x22","x23","sd1","x25","x26","x27","n1","x29","x30","x31","x32","x33","g2","m2","x36","x37","x38","sd2","x40","x41","x42","n2","x44","x45","x46","x47","x48","w","x50","x51","x52","x53","x54","x55","g3","x57","x58","x59","x60","x61","x62","x63","ci","x65","x66","x67","x68","x69","x70","x71","x72","x73","x74","x75","x76","x77","x78","x79","x80","x81","x82","x83","x84","x85","x86","x87","x88","x89","x90","x91","x92","x93","x94","x95","x96","x97","x98","x99","x100","x101","x102","x103","x104","x105","x106","end"],"range":[17.5,1421.5],"padding":0}},
  "y": {"datum": "h1", "type": "nominal", "axis": null, "scale": {"domain":["h1","h2","1997 Zhang","1998 Yu A","1998 Yu B","1999 Yu","2002 Li2","2002 Wang","2003 Liu","2003 Zhao","2005 Chen","2005 Yin","2006 Colakogullari","2006 Li A","2006 Li B","2010 Srivastava","2015 Xu","2017 Muto","2019 Feng A","2019 Feng B","gap","Total (95% CI)","Het","Test"],"range":[47.5,640.8],"padding":0}},
  "text": {"field": "panel"}}},
{"data": {"name": "b_rows"},
 "mark": {"type": "text", "font": "Liberation Sans", "fontSize": 18.5, "align": "left", "baseline": "middle", "dx": 5, "color": "#222"},
 "encoding": {"x": {"datum": "study", "type": "nominal", "axis": null, "scale": {"domain":["study","x1","x2","x3","x4","x5","x6","x7","x8","x9","x10","x11","x12","x13","x14","x15","x16","x17","x18","m1","x20","g1","x22","x23","sd1","x25","x26","x27","n1","x29","x30","x31","x32","x33","g2","m2","x36","x37","x38","sd2","x40","x41","x42","n2","x44","x45","x46","x47","x48","w","x50","x51","x52","x53","x54","x55","g3","x57","x58","x59","x60","x61","x62","x63","ci","x65","x66","x67","x68","x69","x70","x71","x72","x73","x74","x75","x76","x77","x78","x79","x80","x81","x82","x83","x84","x85","x86","x87","x88","x89","x90","x91","x92","x93","x94","x95","x96","x97","x98","x99","x100","x101","x102","x103","x104","x105","x106","end"],"range":[17.5,1421.5],"padding":0}},
  "y": {"field": "study", "type": "nominal", "axis": null, "scale": {"domain":["h1","h2","1997 Zhang","1998 Yu A","1998 Yu B","1999 Yu","2002 Li2","2002 Wang","2003 Liu","2003 Zhao","2005 Chen","2005 Yin","2006 Colakogullari","2006 Li A","2006 Li B","2010 Srivastava","2015 Xu","2017 Muto","2019 Feng A","2019 Feng B","gap","Total (95% CI)","Het","Test"],"range":[47.5,640.8],"padding":0}},
  "text": {"field": "study"}}},
{"data": {"name": "b_rows"},
 "transform": [{"fold": ["m1","sd1","n1","m2","sd2","n2","w","ci"], "as": ["key","value"]}],
 "mark": {"type": "text", "font": "Liberation Sans", "fontSize": 18.5, "align": "right", "baseline": "middle", "color": "#222"},
 "encoding": {"x": {"field": "key", "type": "nominal", "axis": null, "scale": {"domain":["study","x1","x2","x3","x4","x5","x6","x7","x8","x9","x10","x11","x12","x13","x14","x15","x16","x17","x18","m1","x20","g1","x22","x23","sd1","x25","x26","x27","n1","x29","x30","x31","x32","x33","g2","m2","x36","x37","x38","sd2","x40","x41","x42","n2","x44","x45","x46","x47","x48","w","x50","x51","x52","x53","x54","x55","g3","x57","x58","x59","x60","x61","x62","x63","ci","x65","x66","x67","x68","x69","x70","x71","x72","x73","x74","x75","x76","x77","x78","x79","x80","x81","x82","x83","x84","x85","x86","x87","x88","x89","x90","x91","x92","x93","x94","x95","x96","x97","x98","x99","x100","x101","x102","x103","x104","x105","x106","end"],"range":[17.5,1421.5],"padding":0}},
  "y": {"field": "study", "type": "nominal", "axis": null, "scale": {"domain":["h1","h2","1997 Zhang","1998 Yu A","1998 Yu B","1999 Yu","2002 Li2","2002 Wang","2003 Liu","2003 Zhao","2005 Chen","2005 Yin","2006 Colakogullari","2006 Li A","2006 Li B","2010 Srivastava","2015 Xu","2017 Muto","2019 Feng A","2019 Feng B","gap","Total (95% CI)","Het","Test"],"range":[47.5,640.8],"padding":0}},
  "text": {"field": "value", "type": "nominal"}}},
{"data": {"name": "b_h2"},
 "transform": [{"filter": "datum.key != 'study'"}],
 "mark": {"type": "text", "font": "Liberation Sans", "fontSize": 18.5, "fontWeight": "bold", "align": "right", "baseline": "middle", "color": "#222"},
 "encoding": {"x": {"field": "key", "type": "nominal", "axis": null, "scale": {"domain":["study","x1","x2","x3","x4","x5","x6","x7","x8","x9","x10","x11","x12","x13","x14","x15","x16","x17","x18","m1","x20","g1","x22","x23","sd1","x25","x26","x27","n1","x29","x30","x31","x32","x33","g2","m2","x36","x37","x38","sd2","x40","x41","x42","n2","x44","x45","x46","x47","x48","w","x50","x51","x52","x53","x54","x55","g3","x57","x58","x59","x60","x61","x62","x63","ci","x65","x66","x67","x68","x69","x70","x71","x72","x73","x74","x75","x76","x77","x78","x79","x80","x81","x82","x83","x84","x85","x86","x87","x88","x89","x90","x91","x92","x93","x94","x95","x96","x97","x98","x99","x100","x101","x102","x103","x104","x105","x106","end"],"range":[17.5,1421.5],"padding":0}},
  "y": {"datum": "h2", "type": "nominal", "axis": null, "scale": {"domain":["h1","h2","1997 Zhang","1998 Yu A","1998 Yu B","1999 Yu","2002 Li2","2002 Wang","2003 Liu","2003 Zhao","2005 Chen","2005 Yin","2006 Colakogullari","2006 Li A","2006 Li B","2010 Srivastava","2015 Xu","2017 Muto","2019 Feng A","2019 Feng B","gap","Total (95% CI)","Het","Test"],"range":[47.5,640.8],"padding":0}},
  "text": {"field": "label"}}},
{"data": {"name": "b_h2"},
 "transform": [{"filter": "datum.key == 'study'"}],
 "mark": {"type": "text", "font": "Liberation Sans", "fontSize": 18.5, "fontWeight": "bold", "align": "left", "baseline": "middle", "dx": 5, "color": "#222"},
 "encoding": {"x": {"field": "key", "type": "nominal", "axis": null, "scale": {"domain":["study","x1","x2","x3","x4","x5","x6","x7","x8","x9","x10","x11","x12","x13","x14","x15","x16","x17","x18","m1","x20","g1","x22","x23","sd1","x25","x26","x27","n1","x29","x30","x31","x32","x33","g2","m2","x36","x37","x38","sd2","x40","x41","x42","n2","x44","x45","x46","x47","x48","w","x50","x51","x52","x53","x54","x55","g3","x57","x58","x59","x60","x61","x62","x63","ci","x65","x66","x67","x68","x69","x70","x71","x72","x73","x74","x75","x76","x77","x78","x79","x80","x81","x82","x83","x84","x85","x86","x87","x88","x89","x90","x91","x92","x93","x94","x95","x96","x97","x98","x99","x100","x101","x102","x103","x104","x105","x106","end"],"range":[17.5,1421.5],"padding":0}},
  "y": {"datum": "h2", "type": "nominal", "axis": null, "scale": {"domain":["h1","h2","1997 Zhang","1998 Yu A","1998 Yu B","1999 Yu","2002 Li2","2002 Wang","2003 Liu","2003 Zhao","2005 Chen","2005 Yin","2006 Colakogullari","2006 Li A","2006 Li B","2010 Srivastava","2015 Xu","2017 Muto","2019 Feng A","2019 Feng B","gap","Total (95% CI)","Het","Test"],"range":[47.5,640.8],"padding":0}},
  "text": {"field": "label"}}},
{"data": {"name": "b_h1"},
 "mark": {"type": "text", "font": "Liberation Sans", "fontSize": 18.5, "fontWeight": "bold", "align": "center", "baseline": "middle", "dx": 4, "color": "#222"},
 "encoding": {"x": {"field": "key", "type": "nominal", "axis": null, "scale": {"domain":["study","x1","x2","x3","x4","x5","x6","x7","x8","x9","x10","x11","x12","x13","x14","x15","x16","x17","x18","m1","x20","g1","x22","x23","sd1","x25","x26","x27","n1","x29","x30","x31","x32","x33","g2","m2","x36","x37","x38","sd2","x40","x41","x42","n2","x44","x45","x46","x47","x48","w","x50","x51","x52","x53","x54","x55","g3","x57","x58","x59","x60","x61","x62","x63","ci","x65","x66","x67","x68","x69","x70","x71","x72","x73","x74","x75","x76","x77","x78","x79","x80","x81","x82","x83","x84","x85","x86","x87","x88","x89","x90","x91","x92","x93","x94","x95","x96","x97","x98","x99","x100","x101","x102","x103","x104","x105","x106","end"],"range":[17.5,1421.5],"padding":0}},
  "y": {"datum": "h1", "type": "nominal", "axis": null, "scale": {"domain":["h1","h2","1997 Zhang","1998 Yu A","1998 Yu B","1999 Yu","2002 Li2","2002 Wang","2003 Liu","2003 Zhao","2005 Chen","2005 Yin","2006 Colakogullari","2006 Li A","2006 Li B","2010 Srivastava","2015 Xu","2017 Muto","2019 Feng A","2019 Feng B","gap","Total (95% CI)","Het","Test"],"range":[47.5,640.8],"padding":0}},
  "text": {"field": "label"}}},
{"data": {"name": "b_total"},
 "mark": {"type": "text", "font": "Liberation Sans", "fontSize": 18.5, "fontWeight": "bold", "align": "left", "baseline": "middle", "dx": 5, "color": "#222"},
 "encoding": {"x": {"datum": "study", "type": "nominal", "axis": null, "scale": {"domain":["study","x1","x2","x3","x4","x5","x6","x7","x8","x9","x10","x11","x12","x13","x14","x15","x16","x17","x18","m1","x20","g1","x22","x23","sd1","x25","x26","x27","n1","x29","x30","x31","x32","x33","g2","m2","x36","x37","x38","sd2","x40","x41","x42","n2","x44","x45","x46","x47","x48","w","x50","x51","x52","x53","x54","x55","g3","x57","x58","x59","x60","x61","x62","x63","ci","x65","x66","x67","x68","x69","x70","x71","x72","x73","x74","x75","x76","x77","x78","x79","x80","x81","x82","x83","x84","x85","x86","x87","x88","x89","x90","x91","x92","x93","x94","x95","x96","x97","x98","x99","x100","x101","x102","x103","x104","x105","x106","end"],"range":[17.5,1421.5],"padding":0}},
  "y": {"field": "study", "type": "nominal", "axis": null, "scale": {"domain":["h1","h2","1997 Zhang","1998 Yu A","1998 Yu B","1999 Yu","2002 Li2","2002 Wang","2003 Liu","2003 Zhao","2005 Chen","2005 Yin","2006 Colakogullari","2006 Li A","2006 Li B","2010 Srivastava","2015 Xu","2017 Muto","2019 Feng A","2019 Feng B","gap","Total (95% CI)","Het","Test"],"range":[47.5,640.8],"padding":0}},
  "text": {"field": "study"}}},
{"data": {"name": "b_total"},
 "transform": [{"fold": ["n1","n2","w","ci"], "as": ["key","value"]}],
 "mark": {"type": "text", "font": "Liberation Sans", "fontSize": 18.5, "fontWeight": "bold", "align": "right", "baseline": "middle", "color": "#222"},
 "encoding": {"x": {"field": "key", "type": "nominal", "axis": null, "scale": {"domain":["study","x1","x2","x3","x4","x5","x6","x7","x8","x9","x10","x11","x12","x13","x14","x15","x16","x17","x18","m1","x20","g1","x22","x23","sd1","x25","x26","x27","n1","x29","x30","x31","x32","x33","g2","m2","x36","x37","x38","sd2","x40","x41","x42","n2","x44","x45","x46","x47","x48","w","x50","x51","x52","x53","x54","x55","g3","x57","x58","x59","x60","x61","x62","x63","ci","x65","x66","x67","x68","x69","x70","x71","x72","x73","x74","x75","x76","x77","x78","x79","x80","x81","x82","x83","x84","x85","x86","x87","x88","x89","x90","x91","x92","x93","x94","x95","x96","x97","x98","x99","x100","x101","x102","x103","x104","x105","x106","end"],"range":[17.5,1421.5],"padding":0}},
  "y": {"field": "study", "type": "nominal", "axis": null, "scale": {"domain":["h1","h2","1997 Zhang","1998 Yu A","1998 Yu B","1999 Yu","2002 Li2","2002 Wang","2003 Liu","2003 Zhao","2005 Chen","2005 Yin","2006 Colakogullari","2006 Li A","2006 Li B","2010 Srivastava","2015 Xu","2017 Muto","2019 Feng A","2019 Feng B","gap","Total (95% CI)","Het","Test"],"range":[47.5,640.8],"padding":0}},
  "text": {"field": "value", "type": "nominal"}}},
{"data": {"name": "b_foot"},
 "mark": {"type": "text", "font": "Liberation Sans", "fontSize": 18.5, "align": "left", "baseline": "middle", "dx": 5, "color": "#222"},
 "encoding": {"x": {"datum": "study", "type": "nominal", "axis": null, "scale": {"domain":["study","x1","x2","x3","x4","x5","x6","x7","x8","x9","x10","x11","x12","x13","x14","x15","x16","x17","x18","m1","x20","g1","x22","x23","sd1","x25","x26","x27","n1","x29","x30","x31","x32","x33","g2","m2","x36","x37","x38","sd2","x40","x41","x42","n2","x44","x45","x46","x47","x48","w","x50","x51","x52","x53","x54","x55","g3","x57","x58","x59","x60","x61","x62","x63","ci","x65","x66","x67","x68","x69","x70","x71","x72","x73","x74","x75","x76","x77","x78","x79","x80","x81","x82","x83","x84","x85","x86","x87","x88","x89","x90","x91","x92","x93","x94","x95","x96","x97","x98","x99","x100","x101","x102","x103","x104","x105","x106","end"],"range":[17.5,1421.5],"padding":0}},
  "y": {"field": "row", "type": "nominal", "axis": null, "scale": {"domain":["h1","h2","1997 Zhang","1998 Yu A","1998 Yu B","1999 Yu","2002 Li2","2002 Wang","2003 Liu","2003 Zhao","2005 Chen","2005 Yin","2006 Colakogullari","2006 Li A","2006 Li B","2010 Srivastava","2015 Xu","2017 Muto","2019 Feng A","2019 Feng B","gap","Total (95% CI)","Het","Test"],"range":[47.5,640.8],"padding":0}},
  "text": {"field": "label"}}},
{"data": {"values": [{}]},
 "mark": {"type": "rule", "color": "#222", "strokeWidth": 1.5, "xOffset": -11, "x2Offset": 0, "yOffset": 6.5},
 "encoding": {"x": {"datum": "study", "type": "nominal", "axis": null, "scale": {"domain":["study","x1","x2","x3","x4","x5","x6","x7","x8","x9","x10","x11","x12","x13","x14","x15","x16","x17","x18","m1","x20","g1","x22","x23","sd1","x25","x26","x27","n1","x29","x30","x31","x32","x33","g2","m2","x36","x37","x38","sd2","x40","x41","x42","n2","x44","x45","x46","x47","x48","w","x50","x51","x52","x53","x54","x55","g3","x57","x58","x59","x60","x61","x62","x63","ci","x65","x66","x67","x68","x69","x70","x71","x72","x73","x74","x75","x76","x77","x78","x79","x80","x81","x82","x83","x84","x85","x86","x87","x88","x89","x90","x91","x92","x93","x94","x95","x96","x97","x98","x99","x100","x101","x102","x103","x104","x105","x106","end"],"range":[17.5,1421.5],"padding":0}},
  "x2": {"datum": "end"},
  "y": {"datum": "h2", "type": "nominal", "axis": null, "scale": {"domain":["h1","h2","1997 Zhang","1998 Yu A","1998 Yu B","1999 Yu","2002 Li2","2002 Wang","2003 Liu","2003 Zhao","2005 Chen","2005 Yin","2006 Colakogullari","2006 Li A","2006 Li B","2010 Srivastava","2015 Xu","2017 Muto","2019 Feng A","2019 Feng B","gap","Total (95% CI)","Het","Test"],"range":[47.5,640.8],"padding":0}}}}
]},
{"layer": [
{"data": {"values": [{}]},
 "mark": {"type": "rule", "color": "#222", "strokeWidth": 1.3, "yOffset": 6.5, "y2Offset": -8.7},
 "encoding": {"x": {"datum": 0, "type": "quantitative", "scale": {"domain":[-4.35,4.35],"range":[871.8,1398.2],"clamp":true,"nice":false,"zero":false},
   "axis": {"orient": "bottom", "offset": -55, "values": [-4,-2,0,2,4], "ticks": false, "domainColor": "#222", "domainWidth": 1.3, "labelFont": "Liberation Sans", "labelFontSize": 17.5, "labelColor": "#222", "labelPadding": 11, "labelExpr": "'' + datum.value", "labelFlush": false, "labelOverlap": false, "grid": false, "title": null}},
  "y": {"datum": "h2", "type": "nominal", "axis": null, "scale": {"domain":["h1","h2","1997 Zhang","1998 Yu A","1998 Yu B","1999 Yu","2002 Li2","2002 Wang","2003 Liu","2003 Zhao","2005 Chen","2005 Yin","2006 Colakogullari","2006 Li A","2006 Li B","2010 Srivastava","2015 Xu","2017 Muto","2019 Feng A","2019 Feng B","gap","Total (95% CI)","Het","Test"],"range":[47.5,640.8],"padding":0}},
  "y2": {"datum": "Het"}}},
{"data": {"name": "b_ticks"},
 "mark": {"type": "tick", "orient": "vertical", "size": 16, "thickness": 1.3, "color": "#222", "opacity": 1, "yOffset": -8.7},
 "encoding": {"x": {"field": "v", "type": "quantitative", "scale": {"domain":[-4.35,4.35],"range":[871.8,1398.2],"clamp":true,"nice":false,"zero":false},
   "axis": {"orient": "bottom", "offset": -55, "values": [-4,-2,0,2,4], "ticks": false, "domainColor": "#222", "domainWidth": 1.3, "labelFont": "Liberation Sans", "labelFontSize": 17.5, "labelColor": "#222", "labelPadding": 11, "labelExpr": "'' + datum.value", "labelFlush": false, "labelOverlap": false, "grid": false, "title": null}},
  "y": {"datum": "Het", "type": "nominal", "axis": null, "scale": {"domain":["h1","h2","1997 Zhang","1998 Yu A","1998 Yu B","1999 Yu","2002 Li2","2002 Wang","2003 Liu","2003 Zhao","2005 Chen","2005 Yin","2006 Colakogullari","2006 Li A","2006 Li B","2010 Srivastava","2015 Xu","2017 Muto","2019 Feng A","2019 Feng B","gap","Total (95% CI)","Het","Test"],"range":[47.5,640.8],"padding":0}}}},
{"data": {"name": "b_rows"},
 "mark": {"type": "rule", "color": "#222", "strokeWidth": 1.3, "yOffset": -1},
 "encoding": {"x": {"field": "lo", "type": "quantitative", "scale": {"domain":[-4.35,4.35],"range":[871.8,1398.2],"clamp":true,"nice":false,"zero":false},
   "axis": {"orient": "bottom", "offset": -55, "values": [-4,-2,0,2,4], "ticks": false, "domainColor": "#222", "domainWidth": 1.3, "labelFont": "Liberation Sans", "labelFontSize": 17.5, "labelColor": "#222", "labelPadding": 11, "labelExpr": "'' + datum.value", "labelFlush": false, "labelOverlap": false, "grid": false, "title": null}},
  "x2": {"field": "hi"},
  "y": {"field": "study", "type": "nominal", "axis": null, "scale": {"domain":["h1","h2","1997 Zhang","1998 Yu A","1998 Yu B","1999 Yu","2002 Li2","2002 Wang","2003 Liu","2003 Zhao","2005 Chen","2005 Yin","2006 Colakogullari","2006 Li A","2006 Li B","2010 Srivastava","2015 Xu","2017 Muto","2019 Feng A","2019 Feng B","gap","Total (95% CI)","Het","Test"],"range":[47.5,640.8],"padding":0}}}},
{"data": {"name": "b_rows"},
 "mark": {"type": "point", "shape": "square", "filled": true, "size": 22, "color": "#00c800", "opacity": 1, "yOffset": 0},
 "encoding": {"x": {"field": "smd", "type": "quantitative", "scale": {"domain":[-4.35,4.35],"range":[871.8,1398.2],"clamp":true,"nice":false,"zero":false},
   "axis": {"orient": "bottom", "offset": -55, "values": [-4,-2,0,2,4], "ticks": false, "domainColor": "#222", "domainWidth": 1.3, "labelFont": "Liberation Sans", "labelFontSize": 17.5, "labelColor": "#222", "labelPadding": 11, "labelExpr": "'' + datum.value", "labelFlush": false, "labelOverlap": false, "grid": false, "title": null}},
  "y": {"field": "study", "type": "nominal", "axis": null, "scale": {"domain":["h1","h2","1997 Zhang","1998 Yu A","1998 Yu B","1999 Yu","2002 Li2","2002 Wang","2003 Liu","2003 Zhao","2005 Chen","2005 Yin","2006 Colakogullari","2006 Li A","2006 Li B","2010 Srivastava","2015 Xu","2017 Muto","2019 Feng A","2019 Feng B","gap","Total (95% CI)","Het","Test"],"range":[47.5,640.8],"padding":0}}}},
{"data": {"name": "b_rows"},
 "transform": [{"filter": "datum.lo < -4.35"}],
 "mark": {"type": "point", "shape": "triangle-left", "filled": true, "size": 70, "color": "#111", "opacity": 1, "yOffset": -1},
 "encoding": {"x": {"field": "lo", "type": "quantitative", "scale": {"domain":[-4.35,4.35],"range":[871.8,1398.2],"clamp":true,"nice":false,"zero":false},
   "axis": {"orient": "bottom", "offset": -55, "values": [-4,-2,0,2,4], "ticks": false, "domainColor": "#222", "domainWidth": 1.3, "labelFont": "Liberation Sans", "labelFontSize": 17.5, "labelColor": "#222", "labelPadding": 11, "labelExpr": "'' + datum.value", "labelFlush": false, "labelOverlap": false, "grid": false, "title": null}},
  "y": {"field": "study", "type": "nominal", "axis": null, "scale": {"domain":["h1","h2","1997 Zhang","1998 Yu A","1998 Yu B","1999 Yu","2002 Li2","2002 Wang","2003 Liu","2003 Zhao","2005 Chen","2005 Yin","2006 Colakogullari","2006 Li A","2006 Li B","2010 Srivastava","2015 Xu","2017 Muto","2019 Feng A","2019 Feng B","gap","Total (95% CI)","Het","Test"],"range":[47.5,640.8],"padding":0}}}},
{"data": {"name": "b_total"},
 "mark": {"type": "point", "shape": "M -1 0 L 0 -0.23 L 1 0 L 0 0.23 Z", "filled": true, "size": 7569, "color": "#000", "opacity": 1, "yOffset": -5},
 "encoding": {"x": {"field": "smd", "type": "quantitative", "scale": {"domain":[-4.35,4.35],"range":[871.8,1398.2],"clamp":true,"nice":false,"zero":false},
   "axis": {"orient": "bottom", "offset": -55, "values": [-4,-2,0,2,4], "ticks": false, "domainColor": "#222", "domainWidth": 1.3, "labelFont": "Liberation Sans", "labelFontSize": 17.5, "labelColor": "#222", "labelPadding": 11, "labelExpr": "'' + datum.value", "labelFlush": false, "labelOverlap": false, "grid": false, "title": null}},
  "y": {"field": "study", "type": "nominal", "axis": null, "scale": {"domain":["h1","h2","1997 Zhang","1998 Yu A","1998 Yu B","1999 Yu","2002 Li2","2002 Wang","2003 Liu","2003 Zhao","2005 Chen","2005 Yin","2006 Colakogullari","2006 Li A","2006 Li B","2010 Srivastava","2015 Xu","2017 Muto","2019 Feng A","2019 Feng B","gap","Total (95% CI)","Het","Test"],"range":[47.5,640.8],"padding":0}}}},
{"data": {"name": "b_fh"},
 "mark": {"type": "text", "font": "Liberation Sans", "fontSize": 18.5, "fontWeight": "bold", "align": "center", "baseline": "middle", "color": "#222"},
 "encoding": {"x": {"datum": 0, "type": "quantitative", "scale": {"domain":[-4.35,4.35],"range":[871.8,1398.2],"clamp":true,"nice":false,"zero":false},
   "axis": {"orient": "bottom", "offset": -55, "values": [-4,-2,0,2,4], "ticks": false, "domainColor": "#222", "domainWidth": 1.3, "labelFont": "Liberation Sans", "labelFontSize": 17.5, "labelColor": "#222", "labelPadding": 11, "labelExpr": "'' + datum.value", "labelFlush": false, "labelOverlap": false, "grid": false, "title": null}},
  "y": {"field": "row", "type": "nominal", "axis": null, "scale": {"domain":["h1","h2","1997 Zhang","1998 Yu A","1998 Yu B","1999 Yu","2002 Li2","2002 Wang","2003 Liu","2003 Zhao","2005 Chen","2005 Yin","2006 Colakogullari","2006 Li A","2006 Li B","2010 Srivastava","2015 Xu","2017 Muto","2019 Feng A","2019 Feng B","gap","Total (95% CI)","Het","Test"],"range":[47.5,640.8],"padding":0}},
  "text": {"field": "label"}}},
{"data": {"name": "b_fav"},
 "transform": [{"filter": "datum.side == 'left'"}],
 "mark": {"type": "text", "font": "Liberation Sans", "fontSize": 18.5, "align": "right", "baseline": "middle", "dx": -14, "dy": 10.4, "color": "#222"},
 "encoding": {"x": {"datum": 0, "type": "quantitative", "scale": {"domain":[-4.35,4.35],"range":[871.8,1398.2],"clamp":true,"nice":false,"zero":false},
   "axis": {"orient": "bottom", "offset": -55, "values": [-4,-2,0,2,4], "ticks": false, "domainColor": "#222", "domainWidth": 1.3, "labelFont": "Liberation Sans", "labelFontSize": 17.5, "labelColor": "#222", "labelPadding": 11, "labelExpr": "'' + datum.value", "labelFlush": false, "labelOverlap": false, "grid": false, "title": null}},
  "y": {"datum": "Test", "type": "nominal", "axis": null, "scale": {"domain":["h1","h2","1997 Zhang","1998 Yu A","1998 Yu B","1999 Yu","2002 Li2","2002 Wang","2003 Liu","2003 Zhao","2005 Chen","2005 Yin","2006 Colakogullari","2006 Li A","2006 Li B","2010 Srivastava","2015 Xu","2017 Muto","2019 Feng A","2019 Feng B","gap","Total (95% CI)","Het","Test"],"range":[47.5,640.8],"padding":0}},
  "text": {"field": "label"}}},
{"data": {"name": "b_fav"},
 "transform": [{"filter": "datum.side == 'right'"}],
 "mark": {"type": "text", "font": "Liberation Sans", "fontSize": 18.5, "align": "left", "baseline": "middle", "dx": 9, "dy": 10.4, "color": "#222"},
 "encoding": {"x": {"datum": 0, "type": "quantitative", "scale": {"domain":[-4.35,4.35],"range":[871.8,1398.2],"clamp":true,"nice":false,"zero":false},
   "axis": {"orient": "bottom", "offset": -55, "values": [-4,-2,0,2,4], "ticks": false, "domainColor": "#222", "domainWidth": 1.3, "labelFont": "Liberation Sans", "labelFontSize": 17.5, "labelColor": "#222", "labelPadding": 11, "labelExpr": "'' + datum.value", "labelFlush": false, "labelOverlap": false, "grid": false, "title": null}},
  "y": {"datum": "Test", "type": "nominal", "axis": null, "scale": {"domain":["h1","h2","1997 Zhang","1998 Yu A","1998 Yu B","1999 Yu","2002 Li2","2002 Wang","2003 Liu","2003 Zhao","2005 Chen","2005 Yin","2006 Colakogullari","2006 Li A","2006 Li B","2010 Srivastava","2015 Xu","2017 Muto","2019 Feng A","2019 Feng B","gap","Total (95% CI)","Het","Test"],"range":[47.5,640.8],"padding":0}},
  "text": {"field": "label"}}}
]}
]
}
]
}
